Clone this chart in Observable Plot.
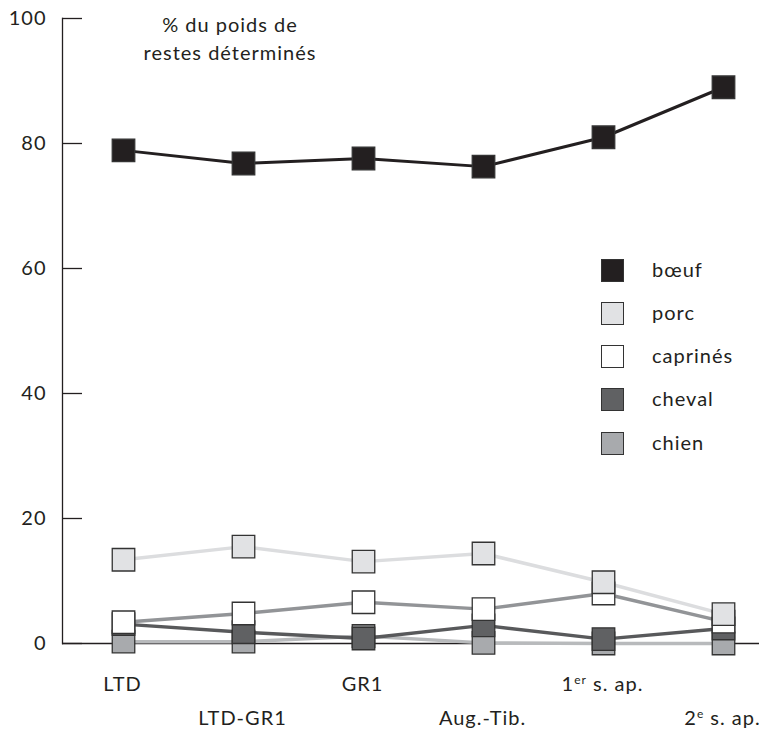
<!DOCTYPE html>
<html><head><meta charset="utf-8">
<script src="https://cdn.jsdelivr.net/npm/d3@7"></script>
<script src="https://cdn.jsdelivr.net/npm/@observablehq/plot@0.6"></script>
<style>
body{margin:0;background:#fff;}
#wrap{position:relative;width:759px;height:733px;overflow:hidden;font-family:Lato,sans-serif;color:#231f20;}
#wrap svg text{letter-spacing:1px;}
#legend{position:absolute;left:601px;top:258.5px;}
.item{position:relative;height:43.25px;}
.sw{position:absolute;left:0;top:0;width:21px;height:21px;border:1.2px solid #333;}
.lb{position:absolute;left:51px;top:-1px;font-size:20px;line-height:23px;letter-spacing:1px;white-space:nowrap;}
</style></head><body><div id="wrap"></div>
<script>
const periods = ["LTD","LTD-GR1","GR1","Aug.-Tib.","1er s. ap.","2e s. ap."];
const species = ["bœuf","porc","caprinés","cheval","chien"];
const boeuf    = [78.9, 76.8, 77.6, 76.3, 81.0, 89.0];
const porc     = [13.4, 15.5, 13.1, 14.4, 9.8, 4.7];
const caprines = [3.4, 4.8, 6.6, 5.5, 8.0, 3.5];
const cheval   = [3.1, 1.8, 0.8, 2.9, 0.7, 2.4];
const chien    = [0.3, 0.3, 1.2, 0.1, 0.0, 0.0];
const yTicks = [0, 20, 40, 60, 80, 100];
const title = "% du poids de\nrestes déterminés";

const values = [boeuf, porc, caprines, cheval, chien];
const fills = ["#231f20", "#e1e2e4", "#ffffff", "#606163", "#a8aaad"];
const lineColors = ["#231f20", "#dcdddf", "#929497", "#58595b", "#b8babc"];
const lineWidths = [3, 3.5, 3.5, 3.5, 3.5];

const series = species.map((s, i) => periods.map((p, j) => ({species: s, period: p, value: values[i][j]})));

const ink = "#231f20";
const marks = [
  Plot.frame({anchor: "left", stroke: ink, strokeWidth: 1.3}),
  Plot.ruleY([0], {stroke: ink, strokeWidth: 1.3}),
  Plot.tickY(yTicks, {y: d => d, insetRight: 697 - 20, stroke: ink, strokeWidth: 1.3}),
  Plot.axisY(yTicks, {tickSize: 0, tickPadding: 16, fontSize: 20, fill: ink, label: null}),
  Plot.text(periods.filter((d, i) => i % 2 === 0), {x: d => d, frameAnchor: "bottom", lineAnchor: "middle", dy: 41, dx: -1, fontSize: 20, fill: ink}),
  Plot.text(periods.filter((d, i) => i % 2 === 1), {x: d => d, frameAnchor: "bottom", lineAnchor: "middle", dy: 75, dx: -1, fontSize: 20, fill: ink}),
  Plot.text([title], {frameAnchor: "top", dx: -181, dy: -7, lineAnchor: "top", lineHeight: 1.415, fontSize: 20, fill: ink})
];
// lines (back to front: chien first)
for (let i = species.length - 1; i >= 0; i--) {
  marks.push(Plot.lineY(series[i], {x: "period", y: "value", stroke: lineColors[i], strokeWidth: lineWidths[i]}));
}
for (let i = species.length - 1; i >= 0; i--) {
  marks.push(Plot.dot(series[i], {x: "period", y: "value", symbol: "square", r: 12.7, fill: fills[i], stroke: "#333", strokeWidth: 1.3}));
}

const chart = Plot.plot({
  width: 759, height: 733,
  marginLeft: 62, marginRight: 0, marginTop: 18, marginBottom: 90,
  x: {type: "point", domain: periods, padding: 0, insetLeft: 59.5, insetRight: 35, axis: null},
  y: {domain: [0, 100], axis: null},
  style: {fontFamily: "Lato, sans-serif", background: "#fff", overflow: "hidden"},
  marks
});

// superscripts for "1er" and "2e"
chart.querySelectorAll("text").forEach(t => {
  const m = /^(\d)(er|e)( s\. ap\.)$/.exec(t.textContent);
  if (!m) return;
  t.textContent = "";
  const ns = "http://www.w3.org/2000/svg";
  const a = document.createElementNS(ns, "tspan"); a.textContent = m[1];
  const b = document.createElementNS(ns, "tspan"); b.textContent = m[2];
  b.setAttribute("font-size", "12"); b.setAttribute("dy", "-7");
  const c = document.createElementNS(ns, "tspan"); c.textContent = m[3];
  c.setAttribute("dy", "7");
  t.append(a, b, c);
});

const wrap = document.getElementById("wrap");
wrap.appendChild(chart);
const legend = document.createElement("div");
legend.id = "legend";
species.forEach((s, i) => {
  const it = document.createElement("div"); it.className = "item";
  const sw = document.createElement("div"); sw.className = "sw"; sw.style.background = fills[i];
  const lb = document.createElement("div"); lb.className = "lb"; lb.textContent = s;
  it.append(sw, lb); legend.appendChild(it);
});
wrap.appendChild(legend);
</script></body></html>
